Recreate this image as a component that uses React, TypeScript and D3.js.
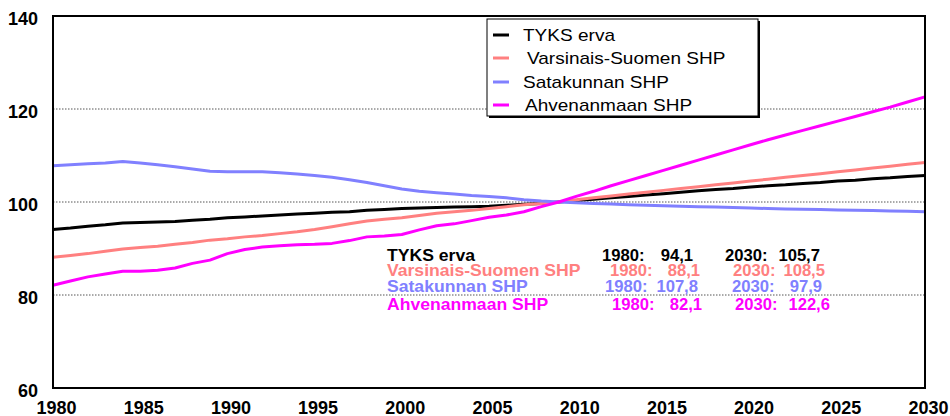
import React, { useRef, useEffect } from 'react';
import * as d3 from 'd3';

const years = d3.range(1980, 2031);

const tyks = [
  94.1, 94.4, 94.8, 95.1, 95.5, 95.6, 95.7, 95.8, 96.1, 96.3,
  96.6, 96.8, 97.0, 97.2, 97.4, 97.6, 97.8, 97.9, 98.2, 98.4,
  98.6, 98.7, 98.8, 98.9, 99.0, 99.1, 99.3, 99.5, 99.7, 100.0,
  100.3, 100.6, 100.9, 101.2, 101.5, 101.8, 102.1, 102.4, 102.7, 102.9,
  103.2, 103.5, 103.7, 104.0, 104.2, 104.5, 104.7, 105.0, 105.2, 105.5,
  105.7,
];
const varsinais = [
  88.1, 88.5, 88.9, 89.4, 89.9, 90.2, 90.5, 90.9, 91.3, 91.8,
  92.1, 92.5, 92.8, 93.2, 93.6, 94.1, 94.7, 95.3, 95.9, 96.3,
  96.6, 97.1, 97.6, 97.9, 98.2, 98.6, 99.0, 99.4, 99.7, 100.0,
  100.5, 100.9, 101.3, 101.7, 102.1, 102.5, 102.9, 103.3, 103.7, 104.1,
  104.5, 104.9, 105.3, 105.7, 106.1, 106.5, 106.9, 107.3, 107.7, 108.1,
  108.5,
];
const satakunta = [
  107.8, 108.0, 108.2, 108.4, 108.7, 108.4, 108.0, 107.6, 107.1, 106.6,
  106.5, 106.5, 106.5, 106.3, 106.0, 105.7, 105.3, 104.8, 104.2, 103.5,
  102.8, 102.3, 102.0, 101.7, 101.4, 101.2, 100.9, 100.5, 100.2, 100.0,
  99.85, 99.7, 99.55, 99.4, 99.3, 99.2, 99.1, 99.0, 98.9, 98.8,
  98.7, 98.6, 98.5, 98.45, 98.4, 98.3, 98.2, 98.15, 98.05, 98.0,
  97.9,
];
const ahvenanmaa = [
  82.1, 83.0, 83.9, 84.5, 85.1, 85.1, 85.3, 85.8, 86.8, 87.5,
  88.9, 89.8, 90.3, 90.6, 90.8, 90.9, 91.1, 91.7, 92.5, 92.7,
  93.0, 94.0, 94.9, 95.3, 96.0, 96.7, 97.2, 97.9, 99.0, 100.0,
  101.2, 102.3, 103.5, 104.6, 105.7, 106.8, 107.9, 109.0, 110.1, 111.2,
  112.3, 113.4, 114.4, 115.4, 116.4, 117.4, 118.4, 119.4, 120.4, 121.5,
  122.6,
];

const seriesNames = ['TYKS erva', 'Varsinais-Suomen SHP', 'Satakunnan SHP', 'Ahvenanmaan SHP'];
const seriesColors = ['#000000', '#ff8080', '#8080ff', '#ff00ff'];
const seriesValues = [tyks, varsinais, satakunta, ahvenanmaa];

const yTicks = [60, 80, 100, 120, 140];
const xTicks = [1980, 1985, 1990, 1995, 2000, 2005, 2010, 2015, 2020, 2025, 2030];
const gridValues = [80, 100, 120];

// annotation table: 1980 value, 2030 value
const startLabels = ['94,1', '88,1', '107,8', '82,1'];
const endLabels = ['105,7', '108,5', '97,9', '122,6'];

const FONT = "Arial, 'Liberation Sans', sans-serif";

const App = () => {
  const svgRef = useRef(null);

  useEffect(() => {
    const svg = d3.select(svgRef.current);
    svg.selectAll('*').remove();

    const left = 53, right = 925, top = 16, bottom = 388;

    const x = d3.scaleLinear().domain([1980, 2030]).range([left, right]);
    const y = d3.scaleLinear().domain([60, 140]).range([bottom, top]);

    // dotted gridlines
    svg.append('g')
      .selectAll('line')
      .data(gridValues)
      .join('line')
      .attr('x1', left)
      .attr('x2', right)
      .attr('y1', d => y(d))
      .attr('y2', d => y(d))
      .attr('stroke', '#555')
      .attr('stroke-width', 1)
      .attr('stroke-dasharray', '1.5,1.5');

    // y axis labels
    const yAxis = svg.append('g')
      .attr('transform', `translate(${left},0)`)
      .call(d3.axisLeft(y).tickValues(yTicks).tickSize(0).tickPadding(15));
    yAxis.select('.domain').remove();
    yAxis.selectAll('text')
      .attr('font-family', FONT)
      .attr('font-size', 18)
      .attr('font-weight', 'bold')
      .attr('fill', '#000')
      .attr('dy', '0.45em');

    // x axis labels
    const xAxis = svg.append('g')
      .attr('transform', `translate(0,${bottom})`)
      .call(d3.axisBottom(x).tickValues(xTicks).tickSize(0).tickFormat(d3.format('d')));
    xAxis.select('.domain').remove();
    xAxis.selectAll('text')
      .attr('font-family', FONT)
      .attr('font-size', 18)
      .attr('font-weight', 'bold')
      .attr('fill', '#000')
      .attr('x', 3)
      .attr('y', 26)
      .attr('dy', 0);

    // series lines
    const line = d3.line<number>()
      .x((d, i) => x(years[i]))
      .y(d => y(d));

    svg.append('g')
      .selectAll('path')
      .data(seriesValues)
      .join('path')
      .attr('fill', 'none')
      .attr('stroke', (d, i) => seriesColors[i])
      .attr('stroke-width', 3)
      .attr('stroke-linejoin', 'round')
      .attr('d', d => line(d));

    // plot border
    svg.append('rect')
      .attr('x', left)
      .attr('y', top)
      .attr('width', right - left)
      .attr('height', bottom - top)
      .attr('fill', 'none')
      .attr('stroke', '#000')
      .attr('stroke-width', 2);

    // legend box with small shadow
    const lg = svg.append('g').attr('transform', 'translate(487,19)');
    lg.append('rect')
      .attr('x', 2).attr('y', 2)
      .attr('width', 271).attr('height', 97)
      .attr('fill', '#000');
    lg.append('rect')
      .attr('width', 271).attr('height', 97)
      .attr('fill', '#fff')
      .attr('stroke', '#000')
      .attr('stroke-width', 1);

    const rowY = [16, 39, 63, 86];
    const textX = [36, 40, 36, 38];
    seriesNames.forEach((name, i) => {
      lg.append('line')
        .attr('x1', 6).attr('x2', 22)
        .attr('y1', rowY[i]).attr('y2', rowY[i])
        .attr('stroke', seriesColors[i])
        .attr('stroke-width', 3);
      lg.append('text')
        .attr('transform', `translate(${textX[i]},${rowY[i]}) scale(1.12,1)`)
        .attr('dy', '0.36em')
        .attr('font-family', FONT)
        .attr('font-size', 17)
        .attr('fill', '#000')
        .text(name);
    });

    // annotation table (names slightly stretched sideways like the original)
    const annY = [261, 276, 292, 310];
    const labelStart = [602, 610, 605, 612];
    const valueEnd = [693, 700, 698, 702];
    const label2Start = [725, 733, 732, 735];
    const value2End = [820, 825, 822, 830];
    const ann = svg.append('g')
      .attr('font-family', FONT)
      .attr('font-size', 16)
      .attr('font-weight', 'bold');
    const put = (tx, ty, txt, color, anchor = 'start', sx = 1) => {
      ann.append('text')
        .attr('transform', `translate(${tx},${ty}) scale(${sx},1)`)
        .attr('fill', color)
        .attr('text-anchor', anchor)
        .text(txt);
    };
    seriesNames.forEach((name, i) => {
      const c = seriesColors[i];
      put(387, annY[i], name, c, 'start', 1.1);
      put(labelStart[i], annY[i], '1980:', c, 'start', 1.04);
      put(valueEnd[i], annY[i], startLabels[i], c, 'end', 1.04);
      put(label2Start[i], annY[i], '2030:', c, 'start', 1.04);
      put(value2End[i], annY[i], endLabels[i], c, 'end', 1.04);
    });
  }, []);

  return (
    <svg
      ref={svgRef}
      width={950}
      height={416}
      style={{ position: 'absolute', left: 0, top: 0, background: '#fff' }}
    />
  );
};

export default App;
